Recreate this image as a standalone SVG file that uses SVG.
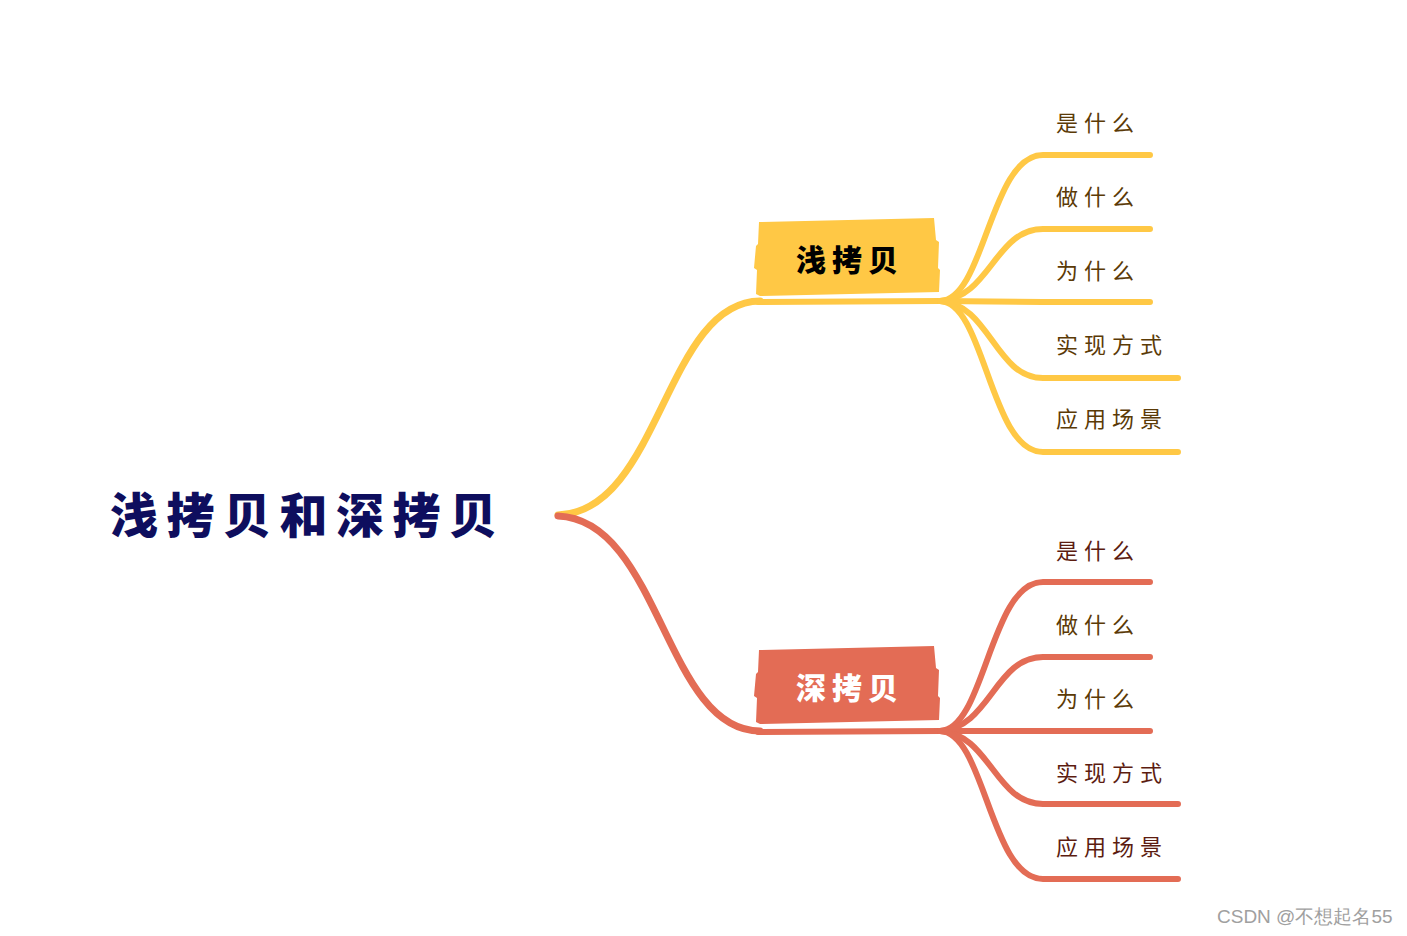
<svg xmlns="http://www.w3.org/2000/svg" width="1407" height="936" viewBox="0 0 1407 936">
<style>
.y{stroke:#FFC845;fill:none;stroke-linecap:round}
.r{stroke:#E36C55;fill:none;stroke-linecap:round}
.root{font-family:"Noto Sans CJK SC",sans-serif;font-weight:900;font-size:48px;fill:#0E0E5E;letter-spacing:8.5px}
.nt{font-family:"Noto Sans CJK SC",sans-serif;font-weight:900;font-size:30px;letter-spacing:6px}
.ct{font-family:"Noto Sans CJK SC",sans-serif;font-size:22px;letter-spacing:6px}
.cy{fill:#5B3A06}
.cr{fill:#5C1C10}
.wm{font-family:"Liberation Sans",Arial,sans-serif;font-size:19px;fill:#A0A0A0}
</style>
<rect width="1407" height="936" fill="#ffffff"/>
<g id="connectors">
  <path class="y" stroke-width="7" d="M558,515 C660,512 665,302 760,301"/>
  <path class="r" stroke-width="7" d="M558,516 C660,520 665,731 760,731"/>
  <!-- yellow branches -->
  <path class="y" stroke-width="6" d="M758,302 L940,301"/>
  <path class="y" stroke-width="6" d="M940,301 C985,300 990,155 1043,155 L1150,155"/>
  <path class="y" stroke-width="6" d="M940,301 C990,298 995,229 1043,229 L1150,229"/>
  <path class="y" stroke-width="6" d="M940,301 L1043,302 L1150,302"/>
  <path class="y" stroke-width="6" d="M940,301 C990,304 995,378 1043,378 L1178,378"/>
  <path class="y" stroke-width="6" d="M940,301 C985,302 990,452 1043,452 L1178,452"/>
  <!-- red branches -->
  <path class="r" stroke-width="6" d="M758,732 L940,731"/>
  <path class="r" stroke-width="6" d="M940,731 C985,730 990,582 1043,582 L1150,582"/>
  <path class="r" stroke-width="6" d="M940,731 C990,728 995,657 1043,657 L1150,657"/>
  <path class="r" stroke-width="6" d="M940,731 L1043,731 L1150,731"/>
  <path class="r" stroke-width="6" d="M940,731 C990,734 995,804 1043,804 L1178,804"/>
  <path class="r" stroke-width="6" d="M940,731 C985,732 990,879 1043,879 L1178,879"/>
</g>
<g id="root">
  <text class="root" x="110" y="533">浅拷贝和深拷贝</text>
</g>
<g id="node-shallow">
  <path fill="#FFC845" d="M759,222 L934,218 L936,240 L939,242 L938,268 L940,270 L939,292 L760,296 L756,294 L757,270 L754,268 L756,246 L758,244 Z"/>
  <text class="nt" x="796" y="271" fill="#000000">浅拷贝</text>
</g>
<g id="node-deep">
  <path fill="#E36C55" d="M759,650 L934,646 L936,668 L939,670 L938,696 L940,698 L939,720 L760,724 L756,722 L757,698 L754,696 L756,674 L758,672 Z"/>
  <text class="nt" x="796" y="699" fill="#ffffff">深拷贝</text>
</g>
<g id="shallow-children">
  <text class="ct cy" x="1056" y="131">是什么</text>
  <text class="ct cy" x="1056" y="205">做什么</text>
  <text class="ct cy" x="1056" y="279">为什么</text>
  <text class="ct cy" x="1056" y="353">实现方式</text>
  <text class="ct cy" x="1056" y="427">应用场景</text>
</g>
<g id="deep-children">
  <text class="ct cr" x="1056" y="559">是什么</text>
  <text class="ct cy" x="1056" y="633">做什么</text>
  <text class="ct cy" x="1056" y="707">为什么</text>
  <text class="ct cr" x="1056" y="781">实现方式</text>
  <text class="ct cr" x="1056" y="855">应用场景</text>
</g>
<text class="wm" x="1217" y="923">CSDN @不想起名55</text>
</svg>
